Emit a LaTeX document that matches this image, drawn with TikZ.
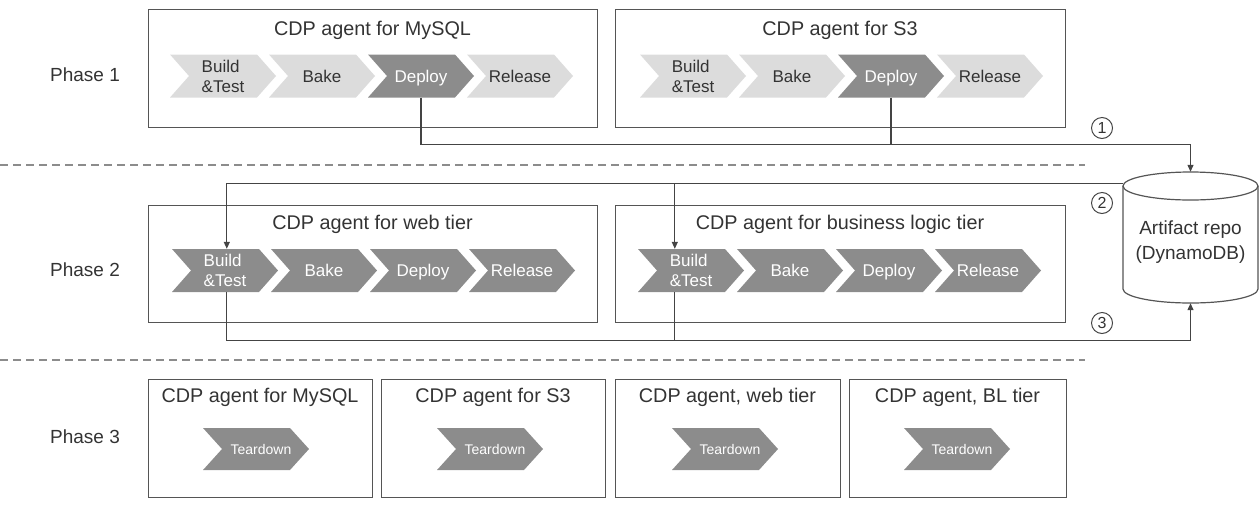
\documentclass[tikz,border=0pt]{standalone}
\usepackage{fontspec}
\setmainfont{Liberation Sans}
\usetikzlibrary{arrows.meta,calc}
\definecolor{lightchev}{HTML}{DCDCDC}
\definecolor{darkchev}{HTML}{8C8C8C}
\definecolor{boxline}{HTML}{555555}
\definecolor{txt}{HTML}{333333}
\definecolor{connc}{HTML}{444444}
\newcommand\mychev[7]{%
  \fill[#5] (#2,#3-#4) -- (#2+87,#3-#4) -- (#2+106,#3) -- (#2+87,#3+#4) -- (#2,#3+#4) -- (#2+19,#3) -- cycle;
  \node[#6, minimum width=106pt, minimum height=2*#4, inner sep=0pt, text depth=0pt] (#1) at (#2+53,#3) {#7};
}
\begin{document}
\begin{tikzpicture}[x=1pt,y=-1pt,
  agentbox/.style={draw=boxline, line width=1.2pt, inner sep=0pt, anchor=north west},
  title/.style={font=\fontsize{19.8}{22}\selectfont, text=txt},
  phase/.style={font=\fontsize{19}{22}\selectfont, text=txt},
  lchev/.style={fill=lightchev},
  dchev/.style={fill=darkchev},
  ltext/.style={font=\fontsize{17}{20}\selectfont, text=txt, align=left},
  dtext/.style={font=\fontsize{17}{20}\selectfont, text=white, align=left},
  ttext/.style={font=\fontsize{14}{16}\selectfont, text=white, xshift=5pt},
  conn/.style={draw=connc, line width=1.2pt},
  arr/.style={-{Triangle[length=7pt,width=6pt]}},
  sep/.style={draw=black!45, line width=1.4pt, dash pattern=on 8pt off 5pt},
  num/.style={circle, draw=connc, line width=1pt, minimum size=21pt, inner sep=0pt, text=txt, font=\fontsize{16}{18}\selectfont},
  repotxt/.style={font=\fontsize{19}{25}\selectfont, text=txt, align=center}
]
\useasboundingbox (0,0) rectangle (1260,512);

% separators
\draw[sep] (0,165) -- (1085,165);
\draw[sep] (0,360) -- (1085,360);

% phase labels
\node[phase] (p1) at (85,75) {Phase 1};
\node[phase] (p2) at (85,270) {Phase 2};
\node[phase] (p3) at (85,437) {Phase 3};

% ---------- Phase 1 ----------
\node[agentbox, minimum width=449pt, minimum height=118pt] (b1) at (148,9) {};
\node[agentbox, minimum width=450pt, minimum height=118pt] (b2) at (615,9) {};
\node[title] (t1) at (372.5,30) {CDP agent for MySQL};
\node[title] (t2) at (840,30) {CDP agent for S3};
\mychev{a1}{170}{76}{21.5}{lchev}{ltext}{Build\\\&Test}
\mychev{a2}{269}{76}{21.5}{lchev}{ltext}{Bake}
\mychev{a3}{368}{76}{21.5}{dchev}{dtext}{Deploy}
\mychev{a4}{467}{76}{21.5}{lchev}{ltext}{Release}
\mychev{s1}{640}{76}{21.5}{lchev}{ltext}{Build\\\&Test}
\mychev{s2}{739}{76}{21.5}{lchev}{ltext}{Bake}
\mychev{s3}{838}{76}{21.5}{dchev}{dtext}{Deploy}
\mychev{s4}{937}{76}{21.5}{lchev}{ltext}{Release}

% ---------- Phase 2 ----------
\node[agentbox, minimum width=449pt, minimum height=117pt] (b3) at (148,205) {};
\node[agentbox, minimum width=450pt, minimum height=117pt] (b4) at (615,205) {};
\node[title] (t3) at (372.5,224) {CDP agent for web tier};
\node[title] (t4) at (840,224) {CDP agent for business logic tier};
\mychev{w1}{172}{270.5}{21.5}{dchev}{dtext}{Build\\\&Test}
\mychev{w2}{271}{270.5}{21.5}{dchev}{dtext}{Bake}
\mychev{w3}{370}{270.5}{21.5}{dchev}{dtext}{Deploy}
\mychev{w4}{469}{270.5}{21.5}{dchev}{dtext}{Release}
\mychev{l1}{638}{270.5}{21.5}{dchev}{dtext}{Build\\\&Test}
\mychev{l2}{737}{270.5}{21.5}{dchev}{dtext}{Bake}
\mychev{l3}{836}{270.5}{21.5}{dchev}{dtext}{Deploy}
\mychev{l4}{935}{270.5}{21.5}{dchev}{dtext}{Release}

% ---------- Phase 3 ----------
\node[agentbox, minimum width=224pt, minimum height=118pt] (c1) at (148,379) {};
\node[agentbox, minimum width=224pt, minimum height=118pt] (c2) at (381,379) {};
\node[agentbox, minimum width=225pt, minimum height=118pt] (c3) at (615,379) {};
\node[agentbox, minimum width=217pt, minimum height=118pt] (c4) at (849,379) {};
\node[title] (u1) at (260,397) {CDP agent for MySQL};
\node[title] (u2) at (493,397) {CDP agent for S3};
\node[title] (u3) at (727.5,397) {CDP agent, web tier};
\node[title] (u4) at (957.5,397) {CDP agent, BL tier};
\mychev{x1}{203}{449}{21}{dchev}{ttext}{Teardown}
\mychev{x2}{437}{449}{21}{dchev}{ttext}{Teardown}
\mychev{x3}{672}{449}{21}{dchev}{ttext}{Teardown}
\mychev{x4}{904}{449}{21}{dchev}{ttext}{Teardown}

% ---------- Artifact repo ----------
\fill[white] (1123,186) -- (1123,289) arc[start angle=180, end angle=0, x radius=67.5, y radius=14] -- (1258,186) -- cycle;
\draw[draw=boxline, line width=1.2pt] (1123,186) -- (1123,289) arc[start angle=180, end angle=0, x radius=67.5, y radius=14] -- (1258,186);
\draw[draw=boxline, line width=1.2pt] (1190.5,186) ellipse[x radius=67.5, y radius=14];
\node[minimum width=135pt, minimum height=131pt, inner sep=0pt] (repo) at (1190.5,237.5) {};
\node[repotxt] (repolabel) at (1190.5,242.5) {Artifact repo\\(DynamoDB)};

% ---------- connectors ----------
% 1
\draw[conn,arr] (a3.south) -- ++(0,47) -| (repo.north);
\draw[conn] (s3.south) -- ++(0,47);
\node[num] (n1) at (1102,128) {1};
% 2
\coordinate (r2) at ($(repo.north west)+(0,12)$);
\coordinate (wtop) at ($(w1.north west)+(55,0)$);
\coordinate (ltop) at ($(l1.north west)+(37,0)$);
\draw[conn,arr] (r2) -| (wtop);
\draw[conn,arr] (ltop |- r2) -- (ltop);
\node[num] (n2) at (1102,203) {2};
% 3
\coordinate (wbot) at ($(w1.south west)+(55,0)$);
\coordinate (lbot) at ($(l1.south west)+(37,0)$);
\draw[conn,arr] (wbot) -- ++(0,48) -| (repo.south);
\draw[conn] (lbot) -- ++(0,48);
\node[num] (n3) at (1102,323) {3};
\end{tikzpicture}
\end{document}
